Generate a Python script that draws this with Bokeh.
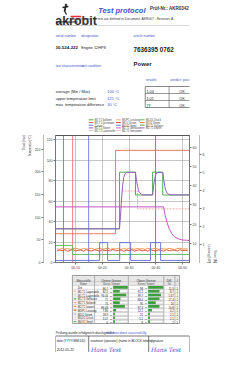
from bokeh.plotting import figure
from bokeh.models import Range1d, LinearAxis, FixedTicker, Label, Title
from bokeh.layouts import column
from bokeh.embed import file_html
from bokeh.resources import INLINE
from bokeh.core.properties import value

# ---------------- chart data ----------------
x_ticks = [10, 20, 30, 40, 50]
x_tick_labels = ["00:10", "00:20", "00:30", "00:40", "00:50"]
y_ticks_main = [0, 20, 40, 60, 80, 100, 120]
y_ticks_p2 = [0, 50, 100, 150, 200, 250]
y_ticks_r1 = [10, 20, 30, 40, 50, 60]
y_ticks_r2 = [1, 2, 3, 4, 5, 6]

t_set = [2.5, 26.45, 26.45, 32.4, 32.4, 38.8, 38.8, 42.6, 42.6, 52.6]
v_set = [32.9, 32.9, 88.2, 88.2, 65.9, 65.9, 88.2, 88.2, 65.9, 65.9]

t_act = [2.5, 26.4, 26.8, 27.2, 27.6, 28.0, 28.5, 29.0, 32.4, 32.8, 33.2, 33.6, 34.0, 34.6, 35.5,
         38.8, 39.2, 39.6, 40.0, 40.4, 41.0, 42.6, 43.0, 43.4, 43.8, 44.3, 45.0, 46.0, 52.6]
v_act = [32.9, 32.9, 45, 62, 75, 83, 86.5, 88, 88, 80, 74, 70, 68, 66.8, 66,
         66, 75, 82, 86, 87.6, 88, 88, 80, 74, 70, 67.5, 66.5, 66, 66]

t_hous = [2.5, 42.9, 43.5, 44.2, 45.0, 46.0, 47.0, 48.5, 50.0, 52.6]
v_hous = [54.3, 54.3, 46, 39, 33, 28, 25, 23, 22, 21.5]

t_lim = [2.5, 24.95, 24.95, 52.6]
v_lim = [28.1, 28.1, 109.5, 109.5]

t_pow = [27.2, 33.2, 33.2, 52.6]
v_pow = [69.8, 69.8, 52.3, 52.3]

t_cur = list(range(3, 53))
v_cur1 = [11.2, 12.1, 11.5, 12.4, 11.0, 11.9, 12.6, 11.3, 11.8, 12.2, 11.1, 12.5, 11.7, 11.2, 12.3,
          11.9, 11.0, 12.4, 11.6, 12.0, 11.3, 12.7, 11.5, 11.8, 12.2, 11.0, 12.1, 11.6, 12.5, 11.2,
          11.9, 12.3, 11.4, 12.0, 11.1, 12.6, 11.7, 11.3, 12.2, 11.8, 11.0, 12.4, 11.5, 12.1, 11.9,
          11.2, 12.5, 11.6, 12.0, 11.4]
v_cur2 = [13.4, 12.8, 13.9, 13.1, 13.6, 12.9, 13.3, 14.0, 13.2, 12.7, 13.8, 13.0, 13.5, 13.9, 12.8,
          13.4, 13.7, 13.0, 13.3, 14.1, 12.9, 13.5, 13.2, 13.8, 12.8, 13.6, 13.1, 13.9, 13.3, 12.9,
          13.7, 13.2, 13.5, 12.8, 13.9, 13.1, 13.4, 13.8, 12.9, 13.6, 13.3, 13.0, 13.7, 13.2, 12.8,
          13.5, 13.9, 13.1, 13.4, 13.0]

t_press = [2.5, 8.9, 8.9, 52.6]
v_press = [16.5, 16.5, 7.8, 7.8]

t_valve = [2.5, 19.0, 19.0, 22.0, 22.0, 26.5, 26.5, 30.6, 30.6, 38.0, 38.0, 41.8, 41.8, 52.6]
v_valve = [2, 2, 19.4, 19.4, 2, 2, 19.4, 19.4, 2, 2, 19.4, 19.4, 2, 2]

cursor_blue = [5.5, 14.9, 39.9]
cursor_red = [8.9]

# legend entries: label, colour
legend_labels = ["M1.T1 Sollwert", "M1.T1 Grenzwert", "Cursor 1", "M1.T1 Istwert", "M1.T2 Lagerstelle",
                 "M3.P1 Leistung", "M3.I1 Strom", "M4.V1 Ventil", "M2.T1 Gehäuse", "M2.T2 Grenzwert",
                 "M4.D1 Druck", "M3.I2 Strom", "M2.T1 Sollwert", "M2.T1 Istwert"]
legend_colors = ["#4cae4c", "#ee6a5a", "#6677dd", "#9a5cc6", "#c8c8c8",
                 "#f4a3a3", "#d9482b", "#5b6ee1", "#c455c4", "#f4b8b8",
                 "#5cb85c", "#f08c3c", "#4cae4c", "#9a5cc6"]

# ---------------- result / table data ----------------
res_labels = ["average (Min / Max)", "upper temperature limit", "max. temperature difference"]
res_nominal = ["100 °C", "121 °C", "30 °C"]
res_values = ["1.04", "1.01", "77"]
res_verdict = ["OK", "OK", "OK"]

tbl_names = ["Zeit", "M1.T1 Lagerstelle", "M1.T2 Lagerstelle", "M1.T3 Gehäuse", "M2.T1 Sollwert",
             "M2.T2 Istwert", "M3.P1 Leistung", "M3.I1 Strom", "M4.D1 Druck", "M4.V1 Ventil"]
tbl_colors = ["#ffffff", "#f4b8b8", "#c8b8e8", "#5cb85c", "#f4a58a",
              "#f08a60", "#e8603c", "#8da0e0", "#d0d0d0", "#5cb85c"]
tbl_low_val = ["86.7", "82.5", "94.03", "71", "74", "86.48", "7.86", "18.9", "3.07", "6"]
tbl_low_frac = [1.0, 0.45, 0.9, 0.5, 0.45, 0.8, 0.2, 0.12, 0.12, 0.12]
tbl_high_val = ["98", "91.2", "99.7", "88.4", "90", "97.3", "12.1", "21", "5.2", "8"]
tbl_high_frac = [1.0, 0.75, 0.85, 0.75, 0.5, 0.75, 0.25, 0.12, 0.12, 0.12]
tbl_diff = ["11.3", "8.7", "5.67", "17.4", "16", "10.8", "4.2", "2.1", "2.1", "2"]
tbl_cnt = ["1", "1", "1", "1", "1", "1", "1", "1", "1", "1"]

# ---------------- helpers ----------------
W = 230
FONT = "Liberation Sans"
BLUE = "#3a55c8"


def blank(h):
    f = figure(width=W, height=h, x_range=Range1d(0, W), y_range=Range1d(h, 0),
               x_axis_type=None, y_axis_type=None, output_backend="svg",
               toolbar_location=None, min_border=0)
    f.outline_line_color = None
    return f


def txt(f, x, y, s, size, color="#222222", style="normal", align="left", font=FONT):
    f.text(x=[x], y=[y], text=[s], text_font_size=f"{size}px", text_color=color,
           text_font_style=style, text_align=align, text_baseline="alphabetic",
           text_font=value(font))


# ---------------- header ----------------
h = blank(117)
h.circle(x=[18], y=[4.5], radius=1.5, color="#222222")
h.segment(x0=[12, 17.5, 17.5, 16], y0=[7, 6, 6, 11], x1=[22, 16, 15, 19], y1=[6, 11, 11, 14],
          line_color="#222222", line_width=1.3)
txt(h, -0.5, 20, "akrobit", 12.5, "#333333", "bold")
h.segment(x0=[26], y0=[16], x1=[44], y1=[16], line_color="#e8303a", line_width=1.3)
h.segment(x0=[0], y0=[21.5], x1=[38], y1=[21.5], line_color="#222222", line_width=1)
txt(h, 0, 24.5, "Qualitätssicherung & Prüftechnik", 2.4, "#444444")
txt(h, 114, 10, "Test protocol", 7.5, BLUE, "bold italic", "center")
txt(h, 115, 18.5, "Requirements for test are defined in Document: AKR007 - Revision: A", 3.3, "#333333",
    "normal", "center")
txt(h, 229, 8, "Prüf-Nr.: AKR0342", 4.5, "#333333", "bold", "right")
h.segment(x0=[0], y0=[25], x1=[230], y1=[25], line_color="#cccccc", line_width=0.8)

txt(h, 0, 35, "serial number", 3.4, BLUE)
txt(h, 44, 35, "designation", 3.4, BLUE)
txt(h, 134, 35, "article number", 3.4, BLUE)
txt(h, 0, 47, "30-524-222", 4.4, "#222222", "bold")
txt(h, 44, 47, "Engine 12HPS", 3.8)
txt(h, 134, 49, "7636395 0762", 6.3, "#222222", "bold")
txt(h, 0, 65, "test characteristics", 3.4, BLUE)
txt(h, 44, 65, "test condition", 3.4, BLUE)
txt(h, 134, 63, "Power", 6, "#222222", "bold")
txt(h, 155, 79, "results", 3.6, BLUE)
txt(h, 197, 79, "verdict: pass/fail", 3.6, BLUE)

row_y = [91, 97.5, 104]
for i, lab in enumerate(res_labels):
    txt(h, 0, row_y[i], lab, 3.9)
    txt(h, 89, row_y[i], res_nominal[i], 3.9, BLUE)
tb_top = 86
tb_rh = 7
n_res = len(res_values)
h.quad(left=[154], right=[232], top=[tb_top], bottom=[tb_top + n_res * tb_rh],
       fill_color=None, line_color="#555555", line_width=0.7)
h.segment(x0=[154] * (n_res - 1), x1=[232] * (n_res - 1),
          y0=[tb_top + (i + 1) * tb_rh for i in range(n_res - 1)],
          y1=[tb_top + (i + 1) * tb_rh for i in range(n_res - 1)],
          line_color="#555555", line_width=0.6)
h.segment(x0=[195], x1=[195], y0=[tb_top], y1=[tb_top + n_res * tb_rh], line_color="#555555",
          line_width=0.6)
for i in range(n_res):
    txt(h, 156, tb_top + i * tb_rh + 5, res_values[i], 3.8)
    txt(h, 217, tb_top + i * tb_rh + 5, res_verdict[i], 3.8, "#222222", "normal", "center")

# ---------------- legend strip ----------------
lg = blank(15)
leg_cols_x = [57, 104, 145]
leg_rows = 5
for i, (lab, colr) in enumerate(zip(legend_labels, legend_colors)):
    cx = leg_cols_x[i // leg_rows]
    cy = 3.2 + (i % leg_rows) * 2.7
    lg.segment(x0=[cx], x1=[cx + 8], y0=[cy - 0.9], y1=[cy - 0.9], line_color=colr, line_width=1)
    txt(lg, cx + 10, cy, lab, 2.6, "#444444")

# ---------------- chart ----------------
p = figure(width=W, height=140, x_range=Range1d(2.5, 52.6), y_range=Range1d(0, 124),
           output_backend="svg", toolbar_location=None,
           min_border_left=55, min_border_right=41, min_border_top=3, min_border_bottom=10)
p.extra_y_ranges = {"p2": Range1d(0, 280), "r1": Range1d(0, 66), "r2": Range1d(0, 7.03)}
p.xaxis.ticker = FixedTicker(ticks=x_ticks)
p.xaxis.major_label_overrides = {t: l for t, l in zip(x_ticks, x_tick_labels)}
p.yaxis.ticker = FixedTicker(ticks=y_ticks_main)
p.add_layout(LinearAxis(y_range_name="p2", ticker=FixedTicker(ticks=y_ticks_p2),
                        axis_line_dash="1 1"), "left")
p.add_layout(LinearAxis(y_range_name="r1", ticker=FixedTicker(ticks=y_ticks_r1)), "right")
p.add_layout(LinearAxis(y_range_name="r2", ticker=FixedTicker(ticks=y_ticks_r2),
                        axis_line_dash="1 1"), "right")
for ax in p.axis:
    ax.major_label_text_font_size = "3.5px"
    ax.major_label_text_font = FONT
    ax.major_label_text_color = "#444444"
    ax.major_tick_out = 2
    ax.major_tick_in = 0
    ax.minor_tick_out = 0
    ax.minor_tick_in = 0
    ax.axis_line_color = "#777777"
    ax.major_tick_line_color = "#777777"
    ax.major_label_standoff = 1
p.xgrid.ticker = FixedTicker(ticks=x_ticks)
p.ygrid.ticker = FixedTicker(ticks=y_ticks_main)
p.grid.grid_line_color = "#9a9a9a"
p.grid.grid_line_alpha = 0.8
p.grid.grid_line_width = 0.7
p.outline_line_color = "#555555"

for txt_ in ["Temperatur [°C]", "Druck [bar]"]:
    p.add_layout(Title(text=txt_, align="right", text_font_size="3px", text_font_style="normal",
                       text_color="#444444", standoff=1), "left")
for txt_ in ["Leistung [kW]", "Strom [A]"]:
    p.add_layout(Title(text=txt_, align="right", text_font_size="3px", text_font_style="normal",
                       text_color="#444444", standoff=1), "right")
p.add_layout(Label(x=52.6, y=0, text="[hh:mm]", x_offset=1, y_offset=-7, text_font_size="3px",
                   text_color="#444444", text_font=FONT))

Y_TOP = 124
p.segment(x0=cursor_blue, x1=cursor_blue, y0=[0] * len(cursor_blue), y1=[Y_TOP] * len(cursor_blue),
          line_color="#6677dd", line_width=0.9)
p.segment(x0=cursor_red, x1=cursor_red, y0=[0] * len(cursor_red), y1=[Y_TOP] * len(cursor_red),
          line_color="#f07070", line_width=0.9)
p.line(t_lim, v_lim, line_color="#ee6a5a", line_width=0.9)
p.line(t_pow, v_pow, line_color="#f4a3a3", line_width=0.9, line_dash="2 1")
p.line(t_cur, v_cur2, line_color="#f08c3c", line_width=0.9)
p.line(t_cur, v_cur1, line_color="#d9482b", line_width=0.9)
p.line(t_press, v_press, line_color="#5cb85c", line_width=0.9)
p.line(t_valve, v_valve, line_color="#5b6ee1", line_width=0.9)
p.line(t_set, v_set, line_color="#4cae4c", line_width=1)
p.line(t_hous, v_hous, line_color="#c455c4", line_width=1)
p.line(t_act, v_act, line_color="#9a5cc6", line_width=1)

# ---------------- measurement table ----------------
tb = blank(52)
cols = [29, 67, 125, 186, 205, 213]
t_top, t_h1, t_h2, rh = 3, 9, 13, 3.8
n = len(tbl_names)
t_bot = t_h2 + n * rh
tb.quad(left=[cols[0]], right=[cols[-1]], top=[t_top], bottom=[t_h2], fill_color="#e6e6e6",
        line_color=None)
tb.quad(left=[cols[0]], right=[cols[-1]], top=[t_top], bottom=[t_bot], fill_color=None,
        line_color="#777777", line_width=0.7)
tb.segment(x0=cols[1:-1], x1=cols[1:-1], y0=[t_top] * (len(cols) - 2), y1=[t_bot] * (len(cols) - 2),
           line_color="#888888", line_width=0.6)
ys = [t_h1, t_h2] + [t_h2 + (i + 1) * rh for i in range(n - 1)]
tb.segment(x0=[cols[0]] * len(ys), x1=[cols[-1]] * len(ys), y0=ys, y1=ys, line_color="#bbbbbb",
           line_width=0.5)
heads = ["Messstelle", "Untere Grenze", "Obere Grenze", "Diff.", "#"]
subs = ["Name", "Kurve / Istwert", "Kurve / Istwert", "Ist", ""]
for i in range(5):
    cx = (cols[i] + cols[i + 1]) / 2
    txt(tb, cx, 7.8, heads[i], 3, "#333333", "normal", "center")
    txt(tb, cx, 12.3, subs[i], 2.6, "#444444", "normal", "center")
for i in range(n):
    yt = t_h2 + i * rh
    ym = yt + rh / 2
    if i > 0:
        tb.segment(x0=[31], x1=[36], y0=[ym], y1=[ym], line_color=tbl_colors[i], line_width=1.2)
    txt(tb, 38, yt + 3, tbl_names[i], 2.7)
    txt(tb, 90, yt + 3, tbl_low_val[i], 2.7, "#222222", "normal", "right")
    txt(tb, 92, yt + 3, "°C", 2.5)
    tb.quad(left=[99], right=[124], top=[yt + 0.6], bottom=[yt + rh - 0.6], fill_color="white",
            line_color="#999999", line_width=0.4)
    tb.quad(left=[99], right=[99 + 25 * tbl_low_frac[i]], top=[yt + 0.6], bottom=[yt + rh - 0.6],
            fill_color="#3f9f3f", line_color=None)
    txt(tb, 150, yt + 3, tbl_high_val[i], 2.7, "#222222", "normal", "right")
    txt(tb, 152, yt + 3, "°C", 2.5)
    tb.quad(left=[159], right=[185], top=[yt + 0.6], bottom=[yt + rh - 0.6], fill_color="white",
            line_color="#999999", line_width=0.4)
    tb.quad(left=[159], right=[159 + 26 * tbl_high_frac[i]], top=[yt + 0.6], bottom=[yt + rh - 0.6],
            fill_color="#3f9f3f", line_color=None)
    txt(tb, 203, yt + 3, tbl_diff[i], 2.7, "#222222", "normal", "right")
    txt(tb, 209, yt + 3, tbl_cnt[i], 2.7, "#222222", "normal", "center")

# ---------------- footer ----------------
ft = blank(28)
txt(ft, 0, 8, "Prüfung wurde erfolgreich durchgeführt", 3.4)
txt(ft, 87, 8, "test was done successfully", 3.4, BLUE)
ft.quad(left=[0], right=[230], top=[11.5], bottom=[40], fill_color=None, line_color="#555555",
        line_width=0.8)
ft.segment(x0=[57, 160], x1=[57, 160], y0=[11.5, 11.5], y1=[40, 40], line_color="#555555",
           line_width=0.8)
txt(ft, 2, 16.5, "date (YYYY-MM-DD)", 3.1)
txt(ft, 60, 16.5, "examiner (operator) (name in BLOCK letters)", 3.1)
txt(ft, 163, 16.5, "signature", 3.1)
txt(ft, 2, 25, "2012-05-22", 3.4)
txt(ft, 61, 25, "Hans Test", 6, BLUE, "italic", "left", "DejaVu Serif")
txt(ft, 164, 25, "Hans Test", 6, BLUE, "italic", "left", "DejaVu Serif")

page = column(h, lg, p, tb, ft, spacing=0)
open("out.html", "w").write(file_html(page, INLINE))
